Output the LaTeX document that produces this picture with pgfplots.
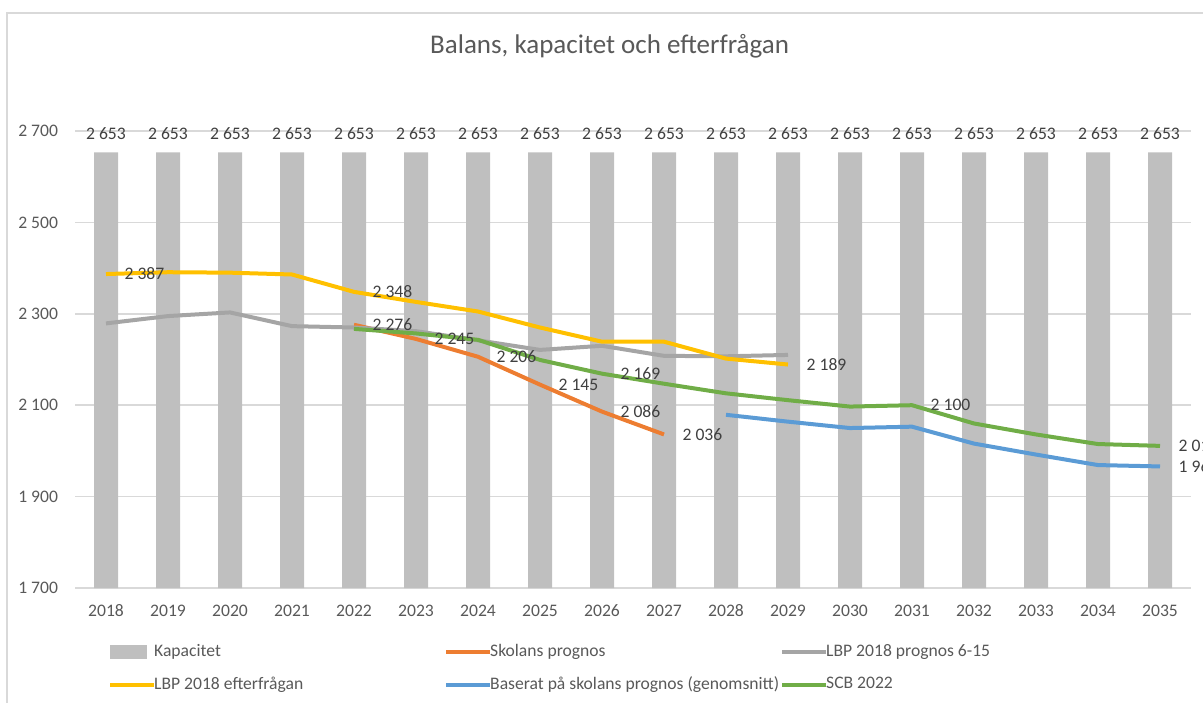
\documentclass[border=0pt]{standalone}
\usepackage{pgfplots}
\pgfplotsset{compat=1.18}
\usepackage{fontspec}
\setmainfont{Carlito}
\definecolor{barc}{HTML}{BFBFBF}
\definecolor{gridc}{HTML}{D9D9D9}
\definecolor{framec}{HTML}{D9D9D9}
\definecolor{tickc}{HTML}{595959}
\definecolor{labc}{HTML}{404040}
\definecolor{orangec}{HTML}{ED7D31}
\definecolor{grayc}{HTML}{A5A5A5}
\definecolor{yellowc}{HTML}{FFC000}
\definecolor{bluec}{HTML}{5B9BD5}
\definecolor{greenc}{HTML}{70AD47}
\newcommand\lf{\fontsize{8.8}{10.5}\selectfont}
\begin{document}
\begin{tikzpicture}
\path[use as bounding box] (0,0) rectangle (601.5pt,351pt);
\begin{scope}
\clip (0,0) rectangle (601.5pt,351pt);
\draw[color=framec, line width=0.75pt] (3.5pt,-5pt) -- (3.5pt,344.5pt) -- (610pt,344.5pt);
\begin{axis}[
  at={(37.5pt,57pt)}, anchor=south west,
  scale only axis, width=558pt, height=228.5pt,
  xmin=2017.5, xmax=2035.5, ymin=1700, ymax=2700,
  xtick={2018,2019,2020,2021,2022,2023,2024,2025,2026,2027,2028,2029,2030,2031,2032,2033,2034,2035},
  xticklabels={2018,2019,2020,2021,2022,2023,2024,2025,2026,2027,2028,2029,2030,2031,2032,2033,2034,2035},
  ytick={1700,1900,2100,2300,2500,2700},
  yticklabels={1 700,1 900,2 100,2 300,2 500,2 700},
  /pgf/number format/assume math mode=true,
  axis line style={draw=none}, major tick length=0pt,
  ymajorgrids, grid style={color=gridc, line width=0.75pt},
  tick label style={font=\lf, text=tickc},
  yticklabel style={xshift=-5pt},
  xticklabel style={yshift=-4.8pt},
  clip mode=individual,
  title={Balans, kapacitet och efterfrågan},
  title style={at={(axis description cs:0.479,1.16)}, anchor=center, yshift=0pt, font=\fontsize{13.5}{16}\selectfont, text=tickc},
  legend columns=3,
  legend cell align=left,
  legend style={at={(axis description cs:0.024,-0.105)}, anchor=north west, draw=none, fill=none, font=\lf, text=tickc, row sep=4.5pt,
    /tikz/every odd column/.append style={column sep=-3pt},
    /tikz/every even column/.append style={column sep=0pt}},
  legend image code/.code={\draw (0pt,0pt) -- (22pt,0pt);},
  every axis plot/.append style={line width=2pt, line join=round},
]
\addplot[ybar, bar width=12pt, fill=barc, draw=none, area legend,
  legend image code/.code={\fill[barc] (0pt,-3.5pt) rectangle (18.5pt,3.5pt);},
  nodes near coords, point meta=explicit symbolic,
  nodes near coords style={font=\lf, text=labc, yshift=2pt}]
coordinates {(2018,2653)[2 653] (2019,2653)[2 653] (2020,2653)[2 653] (2021,2653)[2 653] (2022,2653)[2 653] (2023,2653)[2 653] (2024,2653)[2 653] (2025,2653)[2 653] (2026,2653)[2 653] (2027,2653)[2 653] (2028,2653)[2 653] (2029,2653)[2 653] (2030,2653)[2 653] (2031,2653)[2 653] (2032,2653)[2 653] (2033,2653)[2 653] (2034,2653)[2 653] (2035,2653)[2 653]};
\addlegendentry{\makebox[143pt][l]{Kapacitet}}

\addplot[color=orangec] coordinates {(2022,2276) (2023,2245) (2024,2206) (2025,2145) (2026,2086) (2027,2036)};
\addlegendentry{\makebox[143pt][l]{Skolans prognos}}

\addplot[color=grayc] coordinates {(2018,2279) (2019,2295) (2020,2303) (2021,2273) (2022,2270) (2023,2262) (2024,2242) (2025,2221) (2026,2230) (2027,2208) (2028,2207) (2029,2210)};
\addlegendentry{LBP 2018 prognos 6-15}

\addplot[color=yellowc] coordinates {(2018,2387) (2019,2391) (2020,2390) (2021,2386) (2022,2348) (2023,2326) (2024,2305) (2025,2270) (2026,2239) (2027,2239) (2028,2202) (2029,2189)};
\addlegendentry{\makebox[143pt][l]{LBP 2018 efterfrågan}}

\addplot[color=bluec] coordinates {(2028,2079) (2029,2064) (2030,2050) (2031,2053) (2032,2016) (2033,1992) (2034,1969) (2035,1966)};
\addlegendentry{\makebox[143pt][l]{Baserat på skolans prognos (genomsnitt)}}

\addplot[color=greenc] coordinates {(2022,2267) (2023,2257) (2024,2243) (2025,2199) (2026,2169) (2027,2147) (2028,2126) (2029,2111) (2030,2097) (2031,2100) (2032,2060) (2033,2036) (2034,2015) (2035,2011)};
\addlegendentry{SCB 2022}

\addplot[draw=none, forget plot, nodes near coords, point meta=explicit symbolic,
  nodes near coords style={font=\lf, text=labc, anchor=west, xshift=5pt}]
coordinates {(2018,2387)[2 387] (2022,2348)[2 348] (2029,2189)[2 189]
  (2022,2276)[2 276] (2023,2245)[2 245] (2024,2206)[2 206] (2025,2145)[2 145] (2026,2086)[2 086] (2027,2036)[2 036]
  (2026,2169)[2 169] (2031,2100)[2 100] (2035,2011)[2 011] (2035,1966)[1 966]};
\end{axis}
\end{scope}
\end{tikzpicture}
\end{document}
